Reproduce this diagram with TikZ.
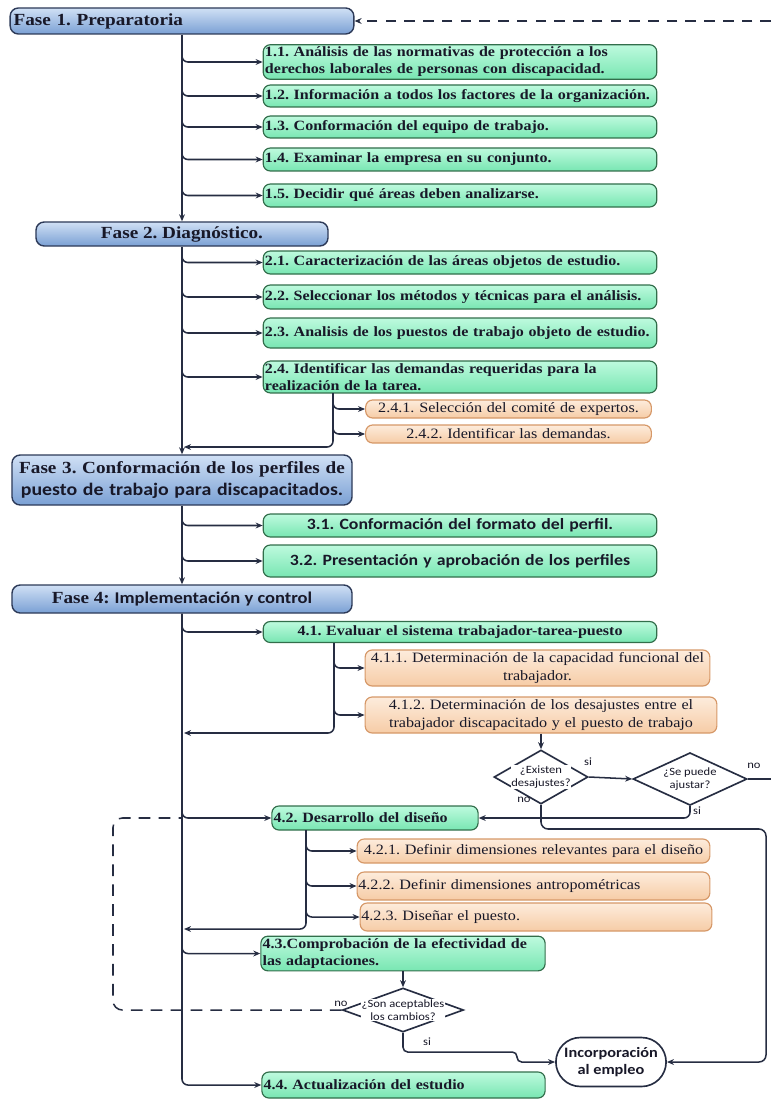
\documentclass[tikz,border=0pt]{standalone}
\usepackage{fontspec}
\setmainfont{Liberation Serif}[FakeStretch=1.13]
\newfontfamily\calfont{Carlito}[FakeStretch=1.13]
\usetikzlibrary{arrows.meta,shapes.geometric,shapes.misc}
\frenchspacing
\definecolor{LineNavy}{RGB}{38,45,66}
\definecolor{FaseTop}{RGB}{208,224,245}
\definecolor{FaseBottom}{RGB}{122,160,212}
\definecolor{FaseEdge}{RGB}{45,58,88}
\definecolor{TaskTop}{RGB}{190,250,222}
\definecolor{TaskBottom}{RGB}{120,230,178}
\definecolor{TaskEdge}{RGB}{50,110,75}
\definecolor{SubTop}{RGB}{253,236,220}
\definecolor{SubBottom}{RGB}{246,204,166}
\definecolor{SubEdge}{RGB}{214,152,104}
\definecolor{InkDark}{RGB}{24,24,40}

\begin{document}
\begin{tikzpicture}[x=0.03cm,y=-0.03cm,>={Stealth[length=6pt,width=5pt]},line width=1.3pt,LineNavy,
  fase/.style={draw=FaseEdge,line width=1.2pt,rounded corners=7pt,top color=FaseTop,bottom color=FaseBottom,text=InkDark,font=\fontsize{14.5}{19.5}\selectfont\bfseries,inner xsep=3pt,inner ysep=2pt},
  task/.style={draw=TaskEdge,line width=1pt,rounded corners=6pt,top color=TaskTop,bottom color=TaskBottom,text=InkDark,font=\fontsize{12.1}{14.5}\selectfont\bfseries,text width=#1,align=left,inner xsep=1.5pt,inner ysep=2pt},
  task/.default=11.7cm,
  sub/.style={draw=SubEdge,line width=1pt,rounded corners=6pt,top color=SubTop,bottom color=SubBottom,text=InkDark,font=\fontsize{12.2}{15.4}\selectfont,text width=#1,align=center,inner xsep=1pt,inner ysep=1.5pt},
  ask/.style={draw=LineNavy,line width=1.4pt,shape=diamond,fill=white,inner sep=0pt},
  asktext/.style={fill=white,inner sep=0.5pt,text=InkDark,font=\calfont\fontsize{9.5}{11}\selectfont,align=center},
  tag/.style={inner sep=0pt,text=InkDark,font=\calfont\fontsize{9.5}{11}\selectfont},
  branch/.style={->,rounded corners=5pt},
  backdash/.style={dash pattern=on 10pt off 7pt,rounded corners=8pt}]
\useasboundingbox (0,0) rectangle (771,1101);

\node[fase,text width=10.1cm,align=left,minimum height=0.78cm] (f1) at (182,21) {Fase 1. Preparatoria};
\node[fase,minimum width=8.76cm,minimum height=0.72cm] (f2) at (182,234) {Fase 2. Diagnóstico.};
\node[fase,text width=9.99cm,align=center,minimum height=1.5cm] (f3) at (182,480) {Fase 3. Conformación de los perfiles de\\{\calfont\fontsize{15}{19.5}\selectfont puesto de trabajo para discapacitados.}};
\node[fase,minimum width=10.2cm,minimum height=0.84cm] (f4) at (182,599) {Fase 4: {\calfont\fontsize{14}{17}\selectfont Implementación y control}};

\node[task] (g11) at (460,62) {1.1. Análisis de las normativas de protección a los\\derechos laborales de personas con discapacidad.};
\node[task,minimum height=0.66cm] (g12) at (460,96) {1.2. Información a todos los factores de la organización.};
\node[task,minimum height=0.66cm] (g13) at (460,127) {1.3. Conformación del equipo de trabajo.};
\node[task,minimum height=0.69cm] (g14) at (460,159.5) {1.4. Examinar la empresa en su conjunto.};
\node[task,minimum height=0.69cm] (g15) at (460,195.5) {1.5. Decidir qué áreas deben analizarse.};

\node[task,minimum height=0.69cm] (g21) at (460,262.5) {2.1. Caracterización de las áreas objetos de estudio.};
\node[task,minimum height=0.72cm] (g22) at (460,297) {2.2. Seleccionar los métodos y técnicas para el análisis.};
\node[task,minimum height=0.9cm] (g23) at (460,333) {2.3. Analisis de los puestos de trabajo objeto de estudio.};
\node[task] (g24) at (460,377) {2.4. Identificar las demandas requeridas para la\\realización de la tarea.};
\node[sub=8.5cm,minimum height=0.54cm] (o241) at (508.5,409) {2.4.1. Selección del comité de expertos.};
\node[sub=8.5cm,minimum height=0.54cm] (o242) at (508.5,434) {2.4.2. Identificar las demandas.};

\node[task,align=center,minimum height=0.69cm,font=\calfont\fontsize{13.4}{16}\selectfont\bfseries] (g31) at (460,525.5) {3.1. Conformación del formato del perfil.};
\node[task,align=center,minimum height=0.96cm,font=\calfont\fontsize{13.4}{16}\selectfont\bfseries] (g32) at (460,561) {3.2. Presentación y aprobación de los perfiles};

\node[task,align=center,minimum height=0.63cm] (g41) at (460,632) {4.1. Evaluar el sistema trabajador-tarea-puesto};
\node[sub=10.27cm,minimum height=1.08cm] (o411) at (537.5,668) {4.1.1. Determinación de la capacidad funcional del\\trabajador.};
\node[sub=10.48cm,minimum height=1.08cm] (o412) at (541,715) {4.1.2. Determinación de los desajustes entre el\\trabajador discapacitado y el puesto de trabajo};

\node[ask,minimum width=2.82cm,minimum height=1.62cm] (d1) at (541,777) {};
\node[asktext] (d1t) at (d1) {¿Existen\\desajustes?};
\node[ask,minimum width=3.42cm,minimum height=1.58cm] (d2) at (690,779) {};
\node[asktext] (d2t) at (d2) {¿Se puede\\ajustar?};

\node[task=6.08cm,minimum height=0.72cm] (g42) at (375,818) {4.2. Desarrollo del diseño};
\node[sub=10.51cm,minimum height=0.72cm] (o421) at (533.5,851) {4.2.1. Definir dimensiones relevantes para el diseño};
\node[sub=10.51cm,align=left,minimum height=0.84cm] (o422) at (533.5,886) {4.2.2. Definir dimensiones antropométricas};
\node[sub=10.48cm,align=left,minimum height=0.84cm] (o423) at (536,917) {4.2.3. Diseñar el puesto.};

\node[task=8.42cm] (g43) at (403,953.5) {4.3.Comprobación de la efectividad de\\las adaptaciones.};
\node[ask,minimum width=3.63cm,minimum height=1.32cm] (d3) at (403,1010) {};
\node[asktext] (d3t) at (d3) {¿Son aceptables\\los cambios?};

\node[draw=LineNavy,line width=1.4pt,rounded rectangle,fill=white,minimum width=3.54cm,minimum height=1.47cm,text=InkDark,font=\calfont\bfseries\fontsize{12.3}{15}\selectfont,align=center] (inc) at (611,1062) {Incorporación\\al empleo};
\node[task=8.39cm,minimum height=0.78cm] (g44) at (403.5,1085) {4.4. Actualización del estudio};

\node[tag] (t1) at (588,762) {si};
\node[tag] (t2) at (524,800) {no};
\node[tag] (t3) at (754,766) {no};
\node[tag] (t4) at (697,811) {si};
\node[tag] (t5) at (341,1004) {no};
\node[tag] (t6) at (427,1042) {si};

\coordinate (topin) at (771,21);
\coordinate (d2out) at (771,779);
\coordinate (s24) at (333,393);
\coordinate (r24) at (184,447);
\coordinate (s41) at (334,643);
\coordinate (r41) at (184,733);
\coordinate (s42) at (306,830);
\coordinate (r42) at (184,929);
\coordinate (c1) at (766,829);
\coordinate (c3) at (517,1052);
\coordinate (dl) at (113,818);

\draw[->] (f1.south) -- (f2.north);
\draw[->] (f2.south) -- (f3.north);
\draw[->] (f3.south) -- (f4.north);
\draw[->,rounded corners=5pt] (f4.south) |- (g44.west);
\draw[->,backdash,dash pattern=on 9pt off 7pt] (topin) -- (f1.east);

\foreach \n in {g11,g12,g13,g14,g15}
  \draw[branch] (\n.west -| f1.south) ++(0,-9) |- (\n.west);
\foreach \n in {g21,g22,g23,g24}
  \draw[branch] (\n.west -| f2.south) ++(0,-9) |- (\n.west);
\foreach \n in {g31,g32}
  \draw[branch] (\n.west -| f3.south) ++(0,-9) |- (\n.west);
\foreach \n in {g41,g42,g43}
  \draw[branch] (\n.west -| f4.south) ++(0,-9) |- (\n.west);

\draw[branch] (s24) |- (o241.west);
\draw[branch] (s24) |- (o242.west);
\draw[branch] (s24) |- (r24);
\draw[branch] (s41) |- (o411.west);
\draw[branch] (s41) |- (o412.west);
\draw[branch] (s41) |- (r41);
\draw[branch] (s42) |- (o421.west);
\draw[branch] (s42) |- (o422.west);
\draw[branch] (s42) |- (o423.west);
\draw[branch] (s42) |- (r42);

\draw[->] (o412.south) -- (d1.north);
\draw[->] (d1.east) -- (d2.west);
\draw (d2.east) -- (d2out);
\draw[->,rounded corners=5pt] (d2.south) |- (g42.east);
\draw[->,rounded corners=6pt] (d1.south) |- (c1) |- (inc.east);

\draw[->] (g43.south) -- (d3.north);
\draw[->,rounded corners=4pt] (d3.south) |- (c3) |- (inc.west);
\draw[backdash] (d3.west) -| (dl) -- (g42.west -| f4.south);
\end{tikzpicture}
\end{document}
